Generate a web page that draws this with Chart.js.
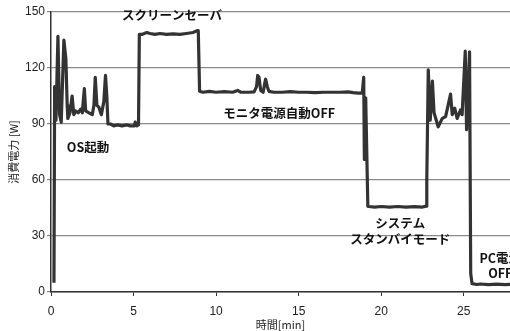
<!DOCTYPE html>
<html>
<head>
<meta charset="utf-8">
<script src="https://cdn.jsdelivr.net/npm/chart.js@4/dist/chart.umd.min.js"></script>
<style>
  body { margin: 0; background: #fff; }
  canvas { display: block; }
</style>
</head>
<body>
<canvas id="powerChart" width="510" height="331"></canvas>
<script>
// 時間 [min]
const times = [
    0.18, 0.22, 0.30, 0.42, 0.52, 0.62, 0.78, 0.90, 0.98, 1.02,
    1.15, 1.28, 1.38, 1.50, 1.65, 1.80, 1.90, 1.95, 2.02, 2.10,
    2.30, 2.50, 2.60, 2.68, 2.78, 2.90, 3.05, 3.20, 3.30, 3.38,
    3.45, 3.60, 3.80, 4.00, 4.30, 4.60, 4.80, 5.05, 5.10, 5.20,
    5.30, 5.35, 5.50, 5.80, 6.00, 6.30, 6.60, 7.00, 7.40, 7.80,
    8.20, 8.60, 8.85, 8.92, 9.00, 9.20, 9.60, 10.0, 10.5, 11.0,
    11.3, 11.5, 12.0, 12.3, 12.45, 12.52, 12.60, 12.70, 12.85, 12.95,
    13.0, 13.1, 13.2, 13.5, 14.0, 14.5, 15.0, 15.5, 16.0, 16.5,
    17.0, 17.5, 18.0, 18.3, 18.6, 18.85, 18.94, 18.98, 19.06, 19.19,
    19.25, 19.6, 20.0, 20.5, 21.0, 21.5, 22.0, 22.5, 22.72, 22.76,
    22.85, 22.97, 23.10, 23.20, 23.45, 23.70, 23.90, 24.20, 24.30, 24.45,
    24.60, 24.80, 24.90, 25.09, 25.17, 25.35, 25.42, 25.50, 25.80, 26.0,
    26.5, 27.0, 27.5, 27.8
];

// 消費電力 [W]
const watts = [
    5, 110, 92, 137, 95, 91, 135, 125, 100, 93,
    96, 105, 95, 97, 96, 98, 96, 102, 109, 97,
    96, 95, 100, 115, 100, 99, 95, 102, 116, 105,
    90, 90, 89, 89.5, 89, 89.5, 89, 89, 91, 89,
    89.5, 138, 138, 139, 138.5, 138, 138.5, 138, 138.3, 138,
    138.5, 139, 140, 140, 107.5, 107, 107.5, 107, 107.3, 107,
    108, 107, 107, 107.2, 110, 116, 115, 108, 107, 112,
    114, 110, 107.5, 107, 107, 107.3, 107, 107, 106.8, 107,
    107, 107, 107.2, 106.8, 106.5, 106.5, 115, 71, 104, 46,
    45.8, 45.5, 45.8, 45.5, 45.8, 45.5, 45.7, 45.5, 46, 60,
    119, 92, 113, 96, 88.5, 93, 94, 106, 95, 98.5,
    93, 97.5, 95, 129, 87, 128.7, 10, 4.5, 4, 4.3,
    4, 4.2, 4, 4.1
];

const xTicksStep = 5;
const yTicksStep = 30;

// 注記
const noteTexts = ['スクリーンセーバ', 'OS起動', 'モニタ電源自動OFF', 'システム', 'スタンバイモード', 'PC電源', 'OFF'];
const noteAt = [
    [7.33, 148.4], [2.24, 77.8], [13.82, 95.7], [21.15, 36.8], [21.15, 28.2], [27.21, 18.0], [27.21, 10.0]
];

const notesPlugin = {
    id: 'notes',
    afterDraw(chart) {
        const ctx = chart.ctx;
        const xs = chart.scales.x, ys = chart.scales.y;
        ctx.save();
        ctx.font = 'bold 12.5px "Noto Sans CJK JP"';
        ctx.fillStyle = '#111';
        ctx.textAlign = 'center';
        ctx.textBaseline = 'middle';
        noteTexts.forEach((t, i) => {
            ctx.fillText(t, xs.getPixelForValue(noteAt[i][0]), ys.getPixelForValue(noteAt[i][1]));
        });
        ctx.restore();
    }
};

const ctx = document.getElementById('powerChart').getContext('2d');
new Chart(ctx, {
    type: 'line',
    data: {
        datasets: [{
            data: times.map((t, i) => ({ x: t, y: watts[i] })),
            borderColor: '#333333',
            borderWidth: 3.2,
            borderJoinStyle: 'round',
            pointRadius: 0,
            tension: 0
        }]
    },
    options: {
        responsive: false,
        animation: false,
        devicePixelRatio: 1,
        layout: { padding: { top: 12, right: 0, left: 0, bottom: 0 } },
        plugins: { legend: { display: false }, tooltip: { enabled: false } },
        scales: {
            x: {
                type: 'linear',
                min: 0,
                max: 27.8,
                afterFit: s => { s.height = 39; },
                border: { color: '#333', width: 1.5 },
                grid: { drawOnChartArea: false, drawTicks: true, tickLength: 4, color: '#333' },
                ticks: {
                    stepSize: xTicksStep,
                    includeBounds: false,
                    padding: 8,
                    color: '#222',
                    font: { family: '"Liberation Sans"', size: 12 }
                },
                title: {
                    display: true,
                    text: '時間[min]',
                    color: '#222',
                    padding: { top: 0, bottom: 0 },
                    font: { family: '"Noto Sans CJK JP"', size: 11 }
                }
            },
            y: {
                min: 0,
                max: 150,
                afterFit: s => { s.width = 51; },
                border: { color: '#333', width: 1.5 },
                grid: { color: '#8a8a8a', lineWidth: 1.2, tickLength: 4 },
                ticks: {
                    stepSize: yTicksStep,
                    padding: 2,
                    color: '#222',
                    font: { family: '"Liberation Sans"', size: 12 }
                },
                title: {
                    display: true,
                    text: '消費電力 [W]',
                    color: '#222',
                    padding: { top: 7, bottom: 0 },
                    font: { family: '"Noto Sans CJK JP"', size: 11 }
                }
            }
        }
    },
    plugins: [notesPlugin]
});
</script>
</body>
</html>
